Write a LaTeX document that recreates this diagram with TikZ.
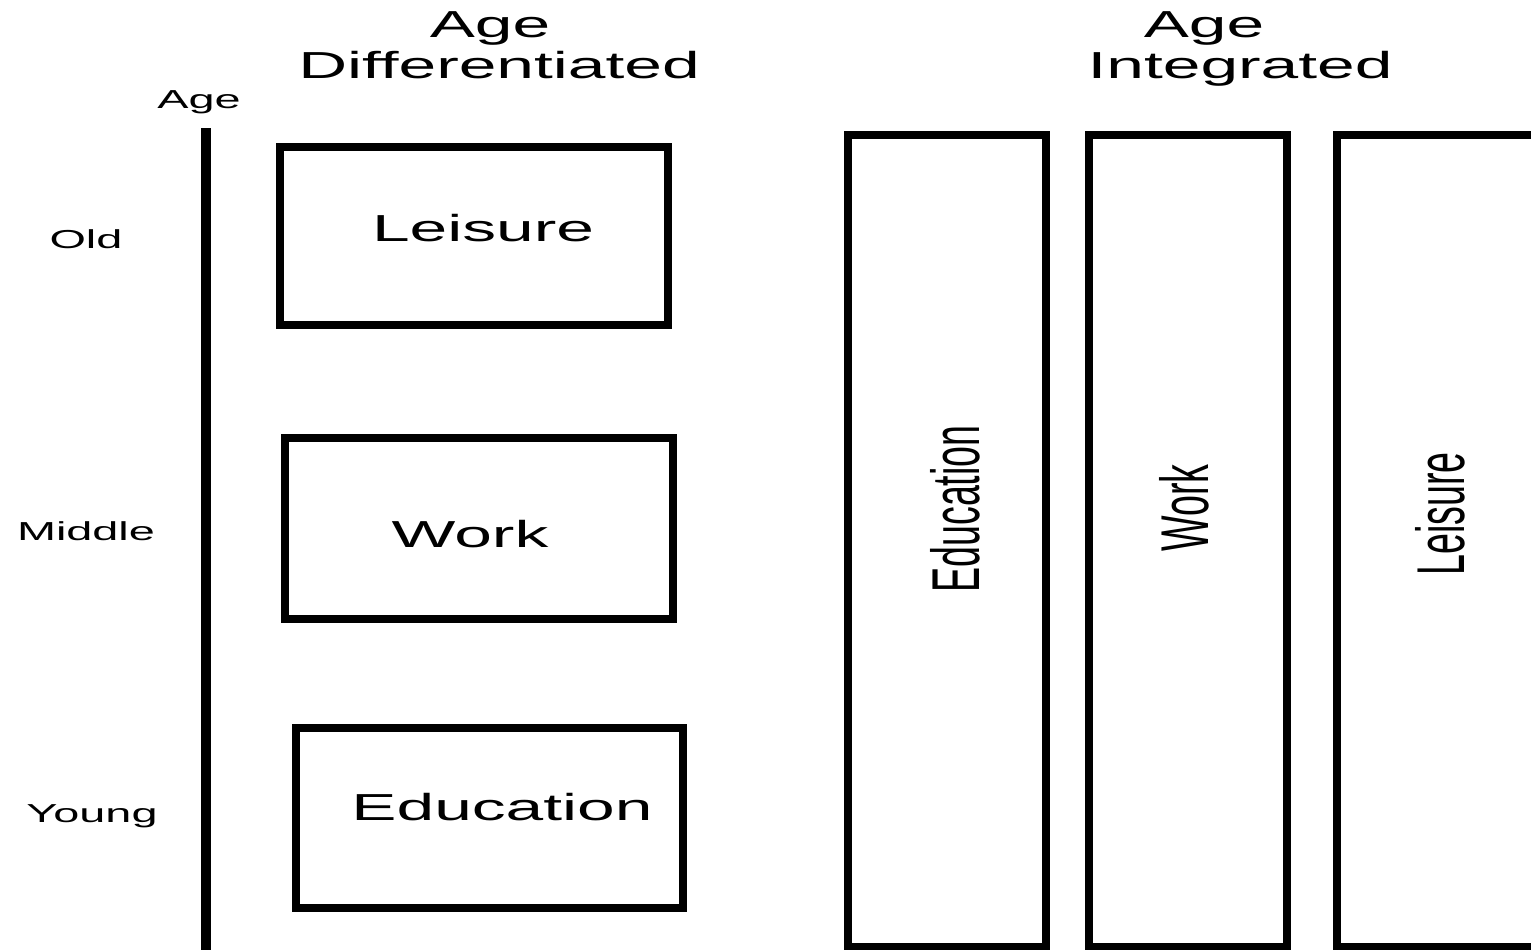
\documentclass[tikz,border=0pt]{standalone}
\usepackage{fontspec}
\setmainfont{Liberation Sans}
\begin{document}
\begin{tikzpicture}[x=1cm,y=-1cm,
		txt/.style={inner sep=0pt, anchor=base, transform shape, xscale=1.8, font=\fontsize{10.7}{13}\selectfont},
		small/.style={txt, font=\fontsize{7.4}{9}\selectfont},
		box/.style={draw, line width=2.5pt, inner sep=0pt},
		axisline/.style={line width=3pt}]
			\useasboundingbox (0,0) rectangle (15.31,9.49);
			\node[txt] (diffa) at (4.90,0.37) {Age};
			\node[txt] (diffb) at (4.99,0.78) {Differentiated};
			\node[txt] (intega) at (12.04,0.37) {Age};
			\node[txt] (integb) at (12.40,0.78) {Integrated};
			\node[small] (agelbl) at (1.99,1.08) {Age};
			\node[small] (old) at (0.86,2.48) {Old};
			\node[small] (middle) at (0.86,5.40) {Middle};
			\node[small] (young) at (0.92,8.22) {Young};
			\coordinate (axtop) at (2.06,1.28);
			\coordinate (axbot) at (2.06,9.60);
			\draw[axisline] (axtop) -- (axbot);
			\node[box, minimum width=3.88cm, minimum height=1.78cm] (leisbox) at (4.74,2.36) {};
			\node[box, minimum width=3.88cm, minimum height=1.81cm] (workbox) at (4.79,5.285) {};
			\node[box, minimum width=3.87cm, minimum height=1.80cm] (edubox) at (4.895,8.18) {};
			\node[txt] (leistxt) at (4.83,2.41) {Leisure};
			\node[txt] (worktxt) at (4.70,5.47) {Work};
			\node[txt] (edutxt) at (5.02,8.20) {Education};
			\node[box, minimum width=1.98cm, minimum height=8.12cm] (educol) at (9.47,5.41) {};
			\node[box, minimum width=1.98cm, minimum height=8.12cm] (workcol) at (11.88,5.41) {};
			\node[box, minimum width=1.98cm, minimum height=8.12cm] (leiscol) at (14.36,5.41) {};
			\node[txt, rotate=90] (educoltxt) at (9.79,5.09) {Education};
			\node[txt, rotate=90] (workcoltxt) at (12.08,5.08) {Work};
			\node[txt, rotate=90] (leiscoltxt) at (14.64,5.14) {Leisure};
		\end{tikzpicture}
\end{document}
